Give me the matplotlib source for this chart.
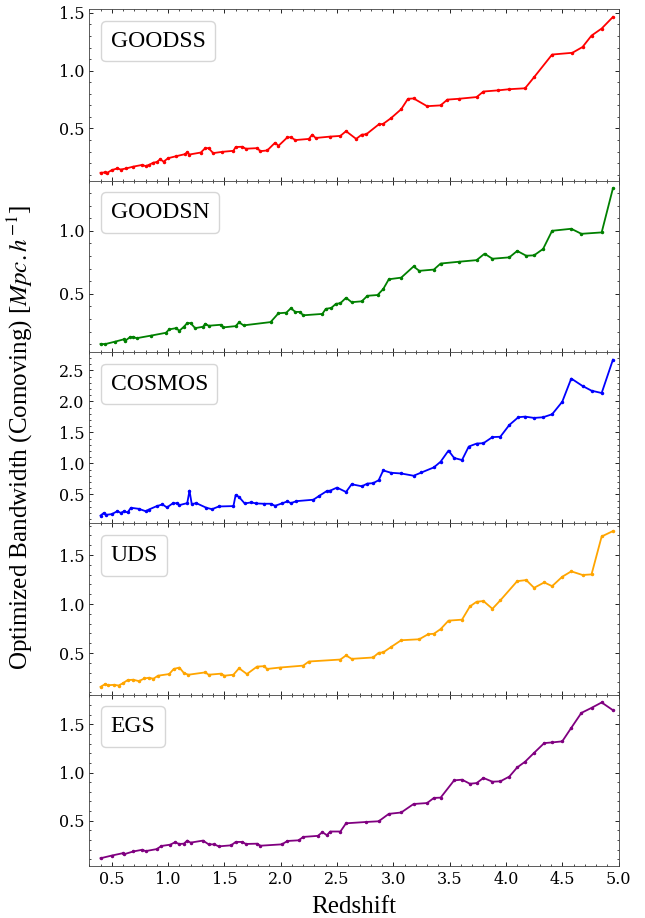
import matplotlib
matplotlib.use("Agg")
import matplotlib.pyplot as plt
from matplotlib.ticker import MultipleLocator, AutoMinorLocator
from matplotlib.lines import Line2D

plt.rcParams.update({
    "font.family": ["DejaVu Serif"],
    "mathtext.fontset": "stix",
    "xtick.direction": "in",
    "ytick.direction": "in",
    "xtick.top": True,
    "ytick.right": True,
    "xtick.minor.visible": True,
    "ytick.minor.visible": True,
    "xtick.major.size": 3,
    "ytick.major.size": 3,
    "xtick.minor.size": 1.5,
    "ytick.minor.size": 1.5,
    "xtick.major.width": 0.6,
    "ytick.major.width": 0.6,
    "xtick.minor.width": 0.5,
    "ytick.minor.width": 0.5,
    "axes.linewidth": 0.6,
    "axes.edgecolor": "0.25",
})
TIMES = ["Liberation Serif", "DejaVu Serif"]

fields = ["GOODSS", "GOODSN", "COSMOS", "UDS", "EGS"]
colors = ["red", "green", "blue", "orange", "purple"]

z_goodss = [0.40, 0.44, 0.46, 0.50, 0.55, 0.58, 0.63, 0.69, 0.77, 0.80, 0.83, 0.87, 0.90, 0.93, 0.96, 1.00,
            1.07, 1.15, 1.17, 1.19, 1.29, 1.33, 1.36, 1.40, 1.48, 1.58, 1.60, 1.66, 1.69, 1.79, 1.82, 1.88,
            1.95, 1.98, 2.06, 2.09, 2.13, 2.25, 2.28, 2.31, 2.44, 2.53, 2.58, 2.67, 2.72, 2.76, 2.87, 2.91,
            2.98, 3.07, 3.13, 3.18, 3.30, 3.42, 3.48, 3.58, 3.74, 3.80, 3.93, 4.03, 4.17, 4.25, 4.41, 4.59,
            4.68, 4.76, 4.85, 4.95]
bw_goodss = [0.117, 0.120, 0.117, 0.140, 0.155, 0.145, 0.155, 0.170, 0.185, 0.175, 0.185, 0.205, 0.210, 0.234, 0.213, 0.243,
             0.260, 0.278, 0.295, 0.275, 0.292, 0.330, 0.330, 0.287, 0.298, 0.307, 0.340, 0.342, 0.325, 0.330, 0.304, 0.310,
             0.377, 0.350, 0.424, 0.424, 0.400, 0.410, 0.447, 0.418, 0.430, 0.436, 0.477, 0.410, 0.447, 0.450, 0.535, 0.540,
             0.590, 0.667, 0.757, 0.760, 0.693, 0.700, 0.750, 0.757, 0.772, 0.820, 0.830, 0.840, 0.848, 0.944, 1.140, 1.155,
             1.205, 1.304, 1.365, 1.465]

z_goodsn = [0.40, 0.44, 0.53, 0.61, 0.62, 0.66, 0.69, 0.72, 0.85, 0.98, 1.01, 1.07, 1.10, 1.14, 1.17, 1.20,
            1.24, 1.31, 1.33, 1.36, 1.47, 1.49, 1.60, 1.63, 1.67, 1.91, 1.98, 2.05, 2.09, 2.13, 2.17, 2.20,
            2.37, 2.40, 2.45, 2.49, 2.53, 2.58, 2.63, 2.72, 2.77, 2.86, 2.91, 2.96, 3.07, 3.18, 3.23, 3.36,
            3.42, 3.58, 3.74, 3.81, 3.88, 4.03, 4.10, 4.18, 4.25, 4.33, 4.41, 4.58, 4.67, 4.85, 4.95]
bw_goodsn = [0.102, 0.100, 0.120, 0.139, 0.126, 0.155, 0.158, 0.147, 0.168, 0.190, 0.217, 0.227, 0.206, 0.238, 0.267, 0.267,
             0.227, 0.238, 0.262, 0.246, 0.254, 0.233, 0.243, 0.273, 0.249, 0.275, 0.345, 0.350, 0.385, 0.356, 0.356, 0.329,
             0.340, 0.380, 0.388, 0.420, 0.425, 0.468, 0.433, 0.440, 0.484, 0.490, 0.537, 0.615, 0.628, 0.717, 0.682, 0.692,
             0.740, 0.754, 0.767, 0.818, 0.778, 0.789, 0.840, 0.802, 0.805, 0.856, 1.000, 1.016, 0.976, 0.987, 1.337]

z_cosmos = [0.40, 0.43, 0.45, 0.50, 0.55, 0.58, 0.61, 0.64, 0.67, 0.74, 0.80, 0.83, 0.90, 0.95, 0.99, 1.04,
            1.08, 1.10, 1.17, 1.19, 1.21, 1.25, 1.34, 1.39, 1.45, 1.58, 1.60, 1.63, 1.68, 1.74, 1.78, 1.85,
            1.91, 1.95, 2.01, 2.06, 2.09, 2.14, 2.29, 2.34, 2.41, 2.44, 2.50, 2.58, 2.63, 2.72, 2.77, 2.82,
            2.87, 2.91, 2.98, 3.07, 3.18, 3.25, 3.36, 3.42, 3.49, 3.54, 3.61, 3.67, 3.74, 3.80, 3.88, 3.95,
            4.03, 4.11, 4.17, 4.25, 4.33, 4.41, 4.50, 4.58, 4.68, 4.76, 4.85, 4.95]
bw_cosmos = [0.158, 0.200, 0.170, 0.180, 0.228, 0.200, 0.228, 0.207, 0.283, 0.266, 0.228, 0.255, 0.310, 0.337, 0.288, 0.353,
             0.358, 0.326, 0.358, 0.560, 0.342, 0.358, 0.283, 0.260, 0.304, 0.310, 0.490, 0.457, 0.353, 0.370, 0.353, 0.348,
             0.348, 0.315, 0.353, 0.386, 0.358, 0.390, 0.413, 0.473, 0.554, 0.560, 0.609, 0.538, 0.663, 0.630, 0.674, 0.680,
             0.728, 0.886, 0.848, 0.837, 0.800, 0.853, 0.935, 1.027, 1.207, 1.087, 1.054, 1.272, 1.320, 1.326, 1.424, 1.430,
             1.620, 1.745, 1.755, 1.734, 1.745, 1.793, 1.995, 2.370, 2.250, 2.174, 2.136, 2.674]

z_uds = [0.40, 0.44, 0.47, 0.52, 0.56, 0.60, 0.64, 0.69, 0.74, 0.79, 0.83, 0.87, 0.91, 1.01, 1.05, 1.10,
         1.14, 1.18, 1.33, 1.36, 1.47, 1.50, 1.58, 1.63, 1.70, 1.79, 1.85, 1.88, 1.99, 2.20, 2.25, 2.53,
         2.58, 2.63, 2.82, 2.87, 2.91, 2.98, 3.07, 3.23, 3.31, 3.36, 3.42, 3.49, 3.61, 3.68, 3.74, 3.80,
         3.88, 3.95, 4.10, 4.18, 4.25, 4.34, 4.41, 4.50, 4.58, 4.68, 4.76, 4.85, 4.95]
bw_uds = [0.155, 0.183, 0.172, 0.176, 0.169, 0.193, 0.224, 0.228, 0.214, 0.241, 0.248, 0.238, 0.269, 0.286, 0.338, 0.352,
          0.297, 0.279, 0.303, 0.279, 0.290, 0.269, 0.279, 0.345, 0.286, 0.362, 0.366, 0.338, 0.352, 0.372, 0.414, 0.434,
          0.476, 0.441, 0.455, 0.503, 0.507, 0.562, 0.631, 0.641, 0.693, 0.697, 0.745, 0.831, 0.841, 0.976, 1.024, 1.031,
          0.952, 1.038, 1.234, 1.245, 1.166, 1.221, 1.183, 1.279, 1.334, 1.297, 1.303, 1.690, 1.745]

z_egs = [0.40, 0.50, 0.60, 0.61, 0.69, 0.77, 0.80, 0.90, 0.94, 1.02, 1.06, 1.10, 1.14, 1.17, 1.20, 1.31,
         1.36, 1.41, 1.45, 1.56, 1.60, 1.66, 1.69, 1.79, 1.82, 2.01, 2.06, 2.16, 2.20, 2.33, 2.37, 2.41,
         2.44, 2.53, 2.58, 2.76, 2.87, 2.96, 3.07, 3.18, 3.30, 3.36, 3.42, 3.54, 3.61, 3.68, 3.74, 3.80,
         3.88, 3.95, 4.03, 4.10, 4.17, 4.25, 4.34, 4.41, 4.50, 4.58, 4.67, 4.76, 4.85, 4.95]
bw_egs = [0.112, 0.140, 0.165, 0.154, 0.182, 0.200, 0.186, 0.207, 0.239, 0.253, 0.277, 0.260, 0.263, 0.295, 0.274, 0.295,
          0.256, 0.256, 0.235, 0.246, 0.281, 0.281, 0.260, 0.263, 0.242, 0.256, 0.291, 0.298, 0.333, 0.344, 0.382, 0.351,
          0.389, 0.389, 0.474, 0.488, 0.495, 0.572, 0.586, 0.674, 0.684, 0.737, 0.740, 0.919, 0.926, 0.884, 0.891, 0.944,
          0.905, 0.909, 0.958, 1.053, 1.112, 1.204, 1.305, 1.312, 1.323, 1.463, 1.618, 1.670, 1.726, 1.646]

zs = [z_goodss, z_goodsn, z_cosmos, z_uds, z_egs]
bws = [bw_goodss, bw_goodsn, bw_cosmos, bw_uds, bw_egs]

fig, axes = plt.subplots(5, 1, sharex=True, figsize=(6.45, 9.18), dpi=100)
fig.subplots_adjust(left=0.1384, right=0.959, top=0.990, bottom=0.0566, hspace=0)

for ax, name, c, z, bw in zip(axes, fields, colors, zs, bws):
    ax.plot(z, bw, color=c, lw=1.3, marker='.', ms=3)
    ax.yaxis.set_major_locator(MultipleLocator(0.5))
    ax.yaxis.set_minor_locator(AutoMinorLocator(5))
    ax.xaxis.set_major_locator(MultipleLocator(0.5))
    ax.xaxis.set_minor_locator(AutoMinorLocator(5))
    ax.tick_params(labelsize=11.5)
    h = Line2D([], [], linestyle='none')
    ax.legend([h], [name], loc='upper left', handlelength=0, handletextpad=0,
              prop={'family': TIMES, 'size': 17}, fancybox=True,
              edgecolor='0.8', framealpha=0.8)

axes[-1].set_xlim(0.3, 5.0)
axes[-1].set_xlabel("Redshift", fontsize=18, family=TIMES, labelpad=6)
fig.text(0.031, 0.5234, r"Optimized Bandwidth (Comoving) [$Mpc.h^{-1}$]",
         rotation=90, va='center', ha='center', fontsize=18, family=TIMES)

fig.savefig("out.png", dpi=100)
